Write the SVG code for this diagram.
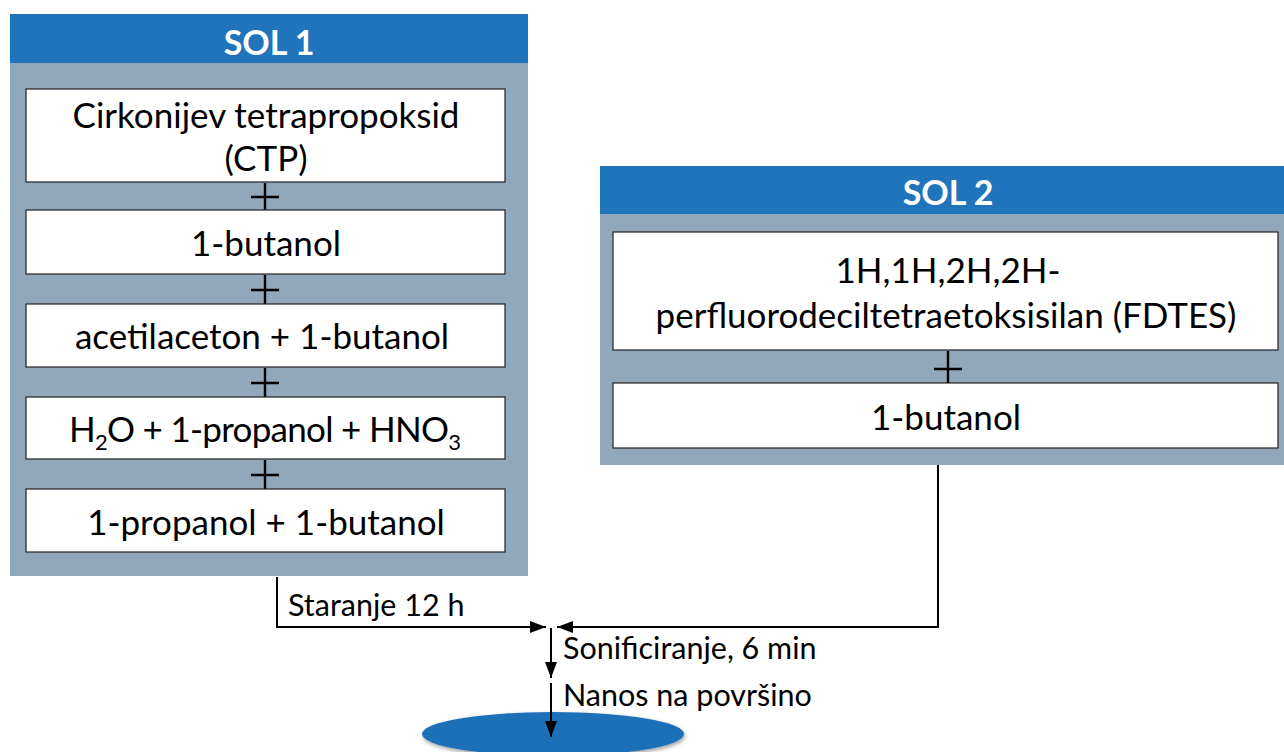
<svg xmlns="http://www.w3.org/2000/svg" width="1284" height="752" viewBox="0 0 1284 752">
<style>
.hdr{fill:#1f74bb}
.panel{fill:#91a7bb}
.box{fill:#fff;stroke:#222;stroke-width:1.2}
.t{font-family:Lato,"Liberation Sans",sans-serif;font-size:35px;fill:#000;text-anchor:middle}
.h{font-family:Lato,"Liberation Sans",sans-serif;font-size:34px;font-weight:bold;fill:#fff;text-anchor:middle}
.lbl{font-family:Lato,"Liberation Sans",sans-serif;font-size:30.5px;fill:#000}
.plus{stroke:#000;stroke-width:2.4;fill:none}
.ln{stroke:#000;stroke-width:2;fill:none}
</style>
<defs>
<marker id="ah" viewBox="0 0 16 12" refX="16" refY="6" markerWidth="16" markerHeight="12" markerUnits="userSpaceOnUse" orient="auto">
<path d="M0,0 L16,6 L0,12 Z" fill="#000"/>
</marker>
<filter id="sh" x="-10%" y="-30%" width="120%" height="160%">
<feGaussianBlur in="SourceAlpha" stdDeviation="2"/>
<feOffset dx="1" dy="2"/>
<feComponentTransfer><feFuncA type="linear" slope="0.4"/></feComponentTransfer>
<feMerge><feMergeNode/><feMergeNode in="SourceGraphic"/></feMerge>
</filter>
</defs>
<rect width="1284" height="752" fill="#fff"/>

<g id="sol1">
<rect class="panel" x="10" y="14" width="518" height="562"/>
<rect class="hdr" x="10" y="14" width="518" height="49"/>
<text class="h" x="269" y="55">SOL 1</text>
</g>
<g id="ctp">
<rect class="box" x="26" y="89" width="479" height="93"/>
<text class="t" x="266" y="128">Cirkonijev tetrapropoksid</text>
<text class="t" x="266" y="171">(CTP)</text>
</g>
<g id="plus1"><path class="plus" d="M265,183 V210 M251,197 H279"/></g>
<g id="butanol1">
<rect class="box" x="26" y="210" width="479" height="64"/>
<text class="t" x="266" y="256">1-butanol</text>
</g>
<g id="plus2"><path class="plus" d="M265,275 V304 M251,290 H279"/></g>
<g id="acac">
<rect class="box" x="26" y="304" width="479" height="63"/>
<text class="t" x="262" y="349">acetilaceton + 1-butanol</text>
</g>
<g id="plus3"><path class="plus" d="M265,368 V397 M251,383 H279"/></g>
<g id="h2o">
<rect class="box" x="26" y="397" width="479" height="62"/>
<text class="t" x="265" y="442" textLength="392" lengthAdjust="spacing">H<tspan font-size="22" dy="8">2</tspan><tspan dy="-8">O + 1-propanol + HNO</tspan><tspan font-size="22" dy="8">3</tspan></text>
</g>
<g id="plus4"><path class="plus" d="M265,460 V489 M251,475 H279"/></g>
<g id="propbut">
<rect class="box" x="26" y="489" width="479" height="63"/>
<text class="t" x="266" y="535">1-propanol + 1-butanol</text>
</g>

<g id="sol2">
<rect class="panel" x="600" y="166" width="684" height="299"/>
<rect class="hdr" x="600" y="166" width="684" height="48"/>
<text class="h" x="948" y="205">SOL 2</text>
</g>
<g id="fdtes">
<rect class="box" x="613" y="232" width="665" height="118"/>
<text class="t" x="948" y="283">1H,1H,2H,2H-</text>
<text class="t" x="946" y="328">perfluorodeciltetraetoksisilan (FDTES)</text>
</g>
<g id="plus5"><path class="plus" d="M948,351 V383 M934,369 H962"/></g>
<g id="butanol2">
<rect class="box" x="613" y="383" width="665" height="65"/>
<text class="t" x="946" y="430">1-butanol</text>
</g>

<g id="surface">
<ellipse cx="553" cy="734" rx="131" ry="22" fill="#1f6fb8" filter="url(#sh)"/>
</g>

<g id="connectors">
<path class="ln" d="M277,577 V627 H546" marker-end="url(#ah)"/>
<path class="ln" d="M938,465 V627 H557" marker-end="url(#ah)"/>
<path class="ln" d="M551,628 V678" marker-end="url(#ah)"/>
<path class="ln" d="M551,683 V737" marker-end="url(#ah)"/>
</g>
<g id="labels">
<text class="lbl" x="288" y="616">Staranje 12 h</text>
<text class="lbl" x="563" y="659">Sonificiranje, 6 min</text>
<text class="lbl" x="563" y="706">Nanos na površino</text>
</g>
</svg>
